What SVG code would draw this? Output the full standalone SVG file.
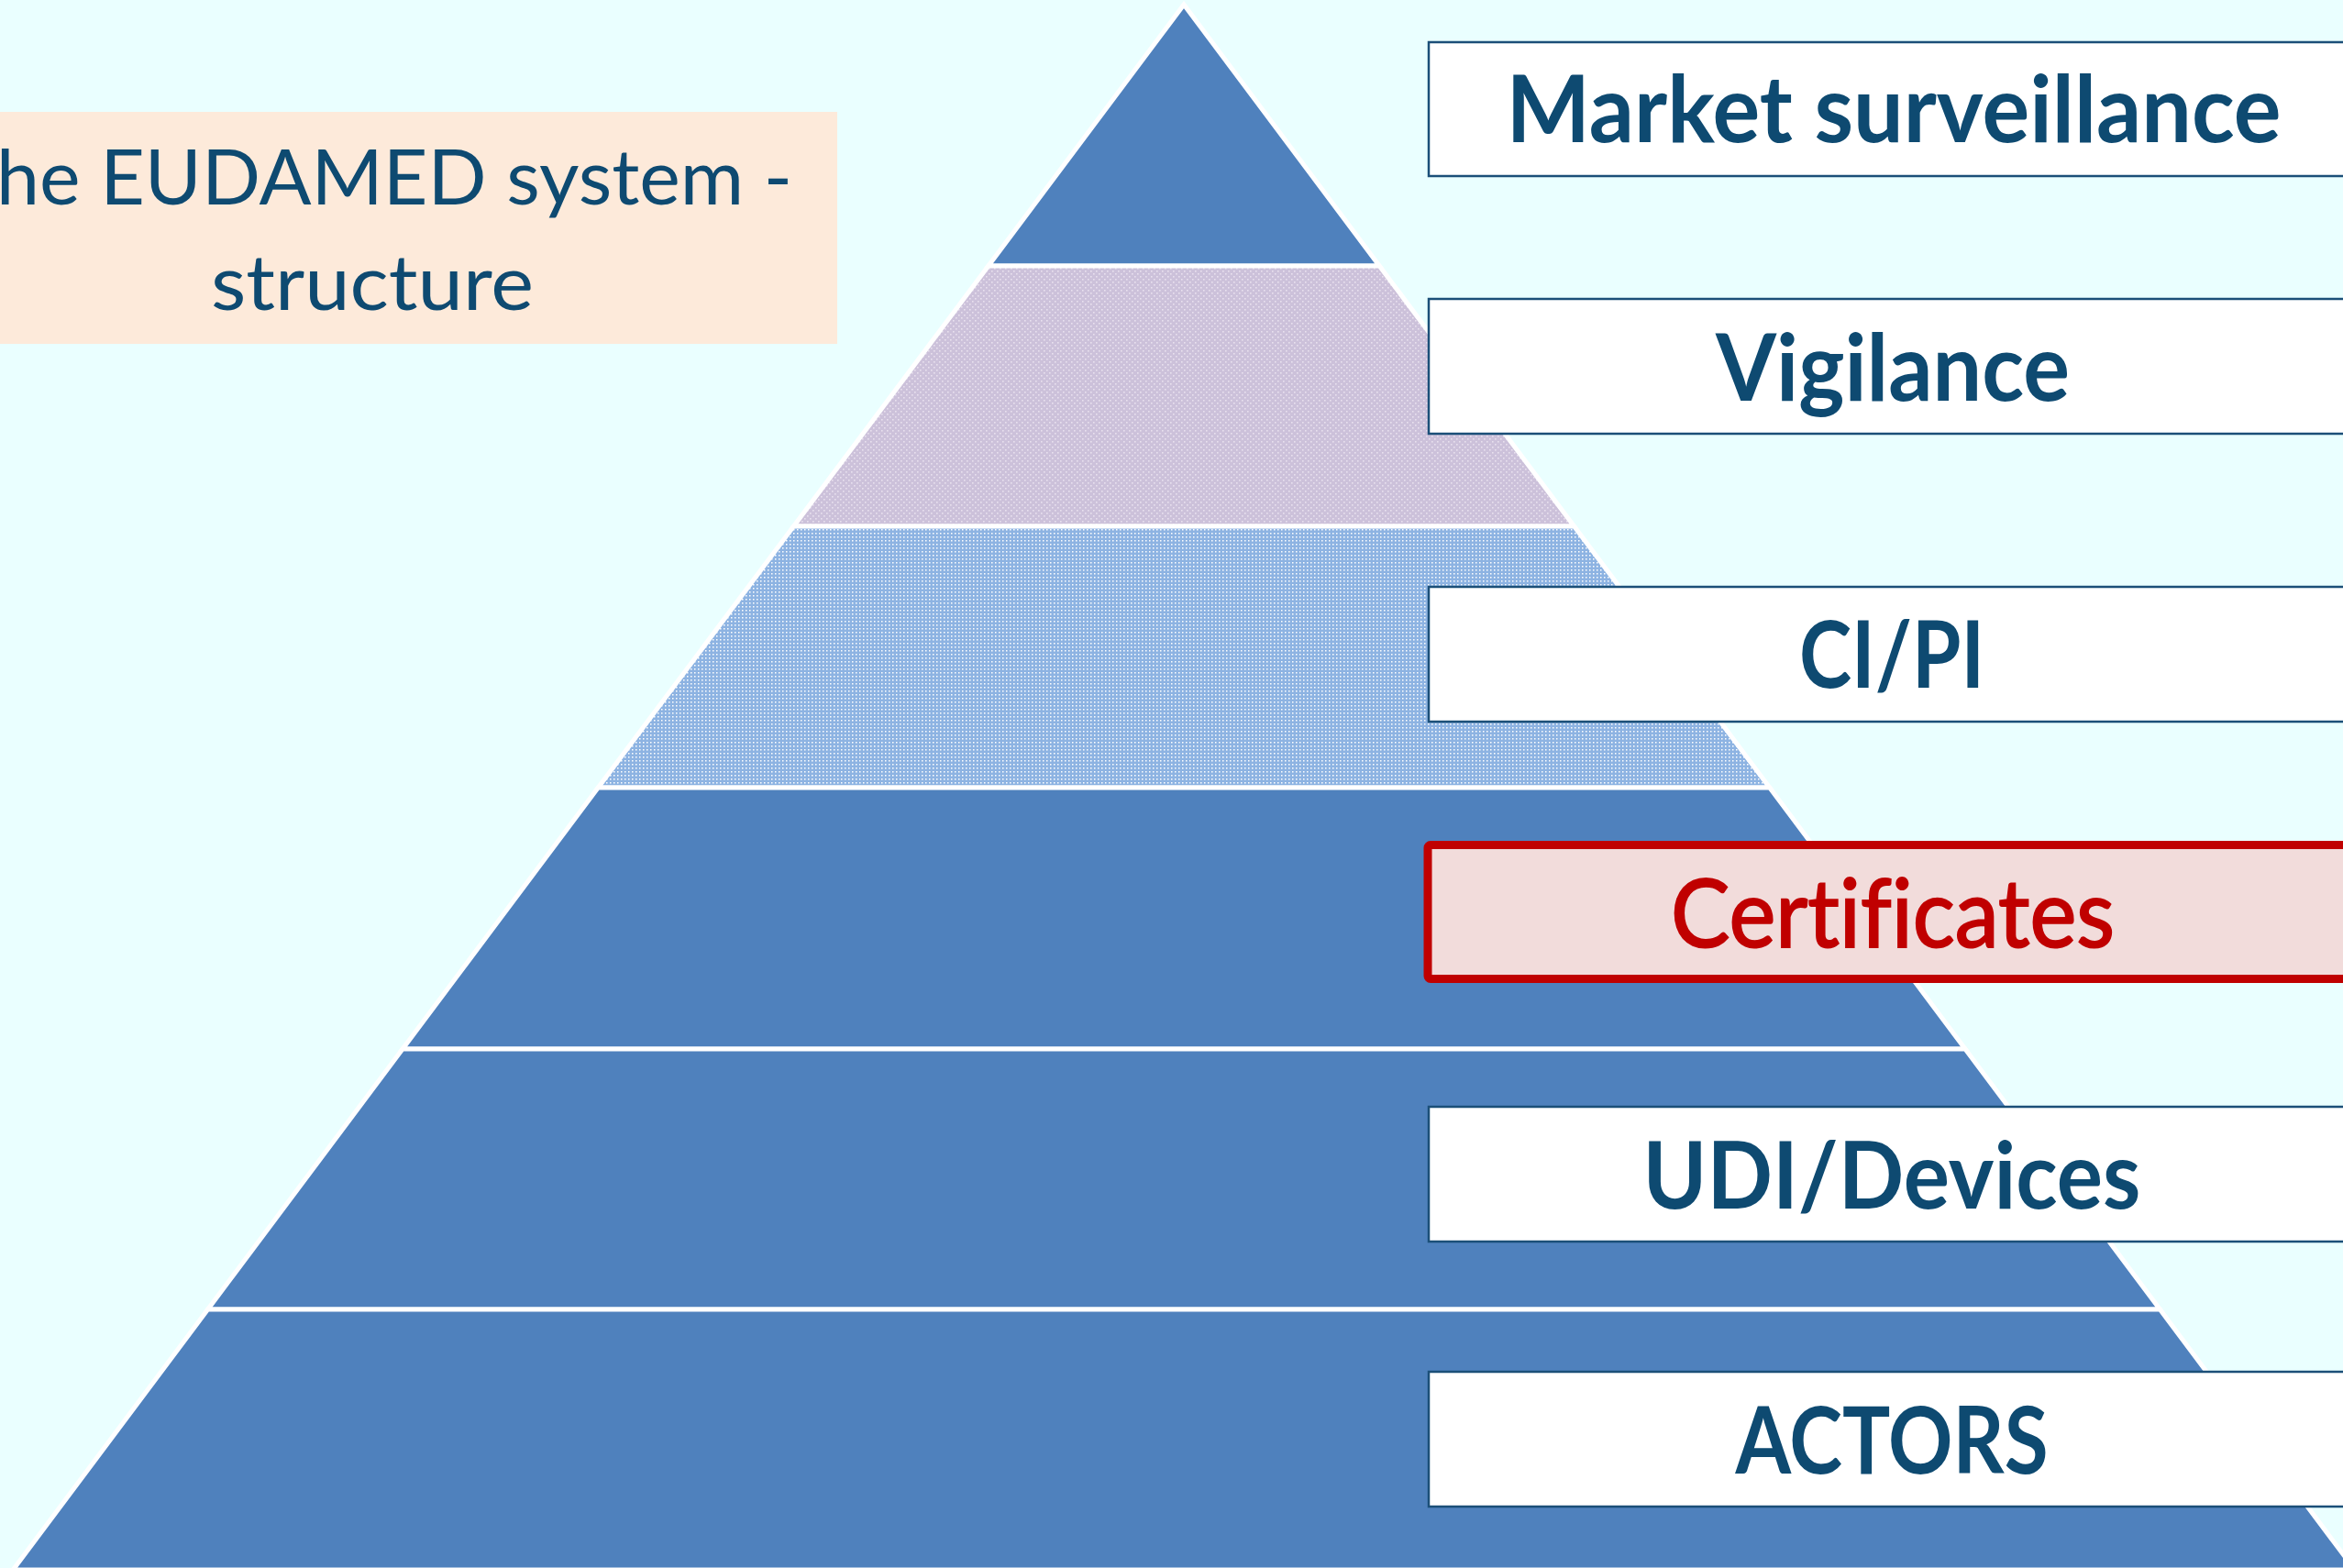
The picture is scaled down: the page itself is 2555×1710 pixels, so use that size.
<svg xmlns="http://www.w3.org/2000/svg" width="2555" height="1710" viewBox="0 0 2555 1710">
<style>
.band{stroke:#FFFFFF;stroke-width:5;stroke-linejoin:miter}
.solid{fill:#4F81BD}
.box{fill:#FFFFFF;stroke:#1B4F78;stroke-width:2.5}
.lbl{font-family:Lato,"Open Sans","Liberation Sans",sans-serif;font-weight:bold;font-size:102px;fill:#0E4A71;text-anchor:middle;font-variant-ligatures:none}
.cert{font-weight:normal;fill:#C00000;stroke:#C00000;stroke-width:2}
.ttl{font-family:Lato,"Open Sans","Liberation Sans",sans-serif;font-size:84px;fill:#0E4A71;font-variant-ligatures:none}
</style>
<defs>
<pattern id="dotLav" width="6" height="6" patternUnits="userSpaceOnUse">
<rect width="6" height="6" fill="#CCC1DA"/>
<rect x="1" y="1" width="1.6" height="1.6" fill="#E9E1EF"/>
<rect x="4" y="4" width="1.6" height="1.6" fill="#E9E1EF"/>
</pattern>
<pattern id="dotBlue" width="4" height="4" patternUnits="userSpaceOnUse">
<rect width="4" height="4" fill="#8DB3E2"/>
<rect x="1" y="1" width="1.5" height="1.5" fill="#FFFFFF"/>
</pattern>
</defs>
<rect width="2555" height="1710" fill="#EAFFFF"/>

<g id="title">
<rect x="0" y="122" width="913" height="253" fill="#FDEADA"/>
<text class="ttl" x="-4" y="223" textLength="868" lengthAdjust="spacingAndGlyphs">he EUDAMED system -</text>
<text class="ttl" x="230" y="338" textLength="352" lengthAdjust="spacingAndGlyphs">structure</text>
</g>

<g id="pyramid">
<polygon id="band-market" class="band solid" points="1291,5 1504.2,290 1077.8,290"/>
<polygon id="band-vigilance" class="band" fill="url(#dotLav)" points="1077.8,290 1504.2,290 1716.6,574 865.4,574"/>
<polygon id="band-cipi" class="band" fill="url(#dotBlue)" points="865.4,574 1716.6,574 1929.8,859 652.2,859"/>
<polygon id="band-certificates" class="band solid" points="652.2,859 1929.8,859 2143,1144 439,1144"/>
<polygon id="band-udi" class="band solid" points="439,1144 2143,1144 2355.4,1428 226.6,1428"/>
<polygon id="band-actors" class="band solid" points="226.6,1428 2355.4,1428 2567.8,1712 14.2,1712"/>
</g>

<g id="connectors"></g>

<g id="node-market">
<rect class="box" x="1558" y="46" width="1012" height="146"/>
<text class="lbl" x="2065" y="155" textLength="845" lengthAdjust="spacingAndGlyphs">Market surveillance</text>
</g>
<g id="node-vigilance">
<rect class="box" x="1558" y="326" width="1012" height="147"/>
<text class="lbl" x="2064" y="437" textLength="386" lengthAdjust="spacingAndGlyphs">Vigilance</text>
</g>
<g id="node-cipi">
<rect class="box" x="1558" y="640" width="1012" height="147"/>
<text class="lbl" x="2063" y="750" textLength="202" lengthAdjust="spacingAndGlyphs">CI/PI</text>
</g>
<g id="node-certificates">
<rect x="1557" y="921.5" width="1012" height="146" rx="3" fill="#F2DCDB" stroke="#C00000" stroke-width="9"/>
<text class="lbl cert" x="2064" y="1033" textLength="484" lengthAdjust="spacingAndGlyphs">Certificates</text>
</g>
<g id="node-udi">
<rect class="box" x="1558" y="1207" width="1012" height="147"/>
<text class="lbl" x="2063" y="1318" textLength="543" lengthAdjust="spacingAndGlyphs">UDI/Devices</text>
</g>
<g id="node-actors">
<rect class="box" x="1558" y="1496" width="1012" height="147"/>
<text class="lbl" x="2063" y="1607" textLength="341" lengthAdjust="spacingAndGlyphs">ACTORS</text>
</g>
</svg>
